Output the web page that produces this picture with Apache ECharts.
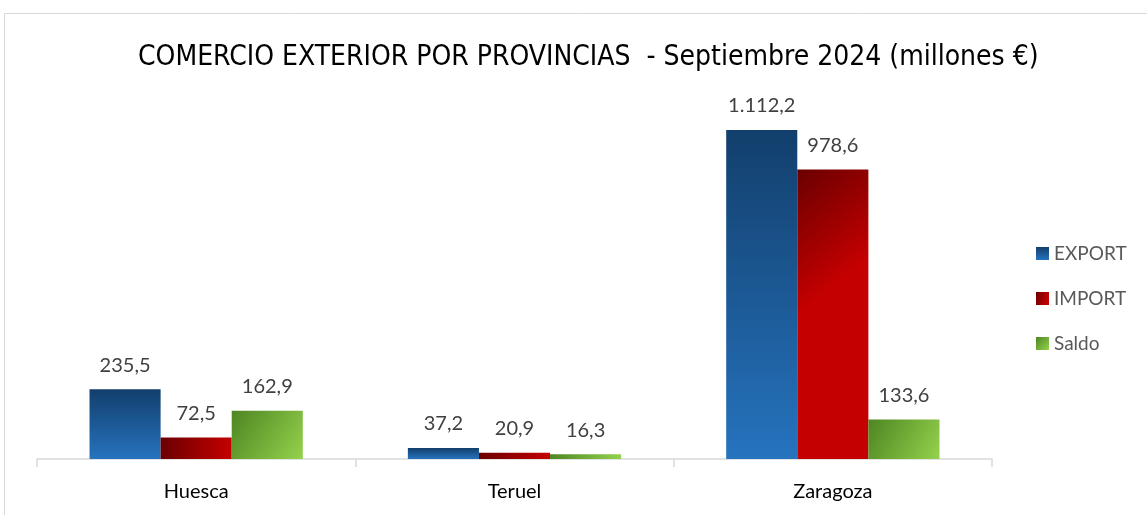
<!DOCTYPE html>
<html>
<head>
<meta charset="utf-8">
<script src="https://cdn.jsdelivr.net/npm/echarts@6/dist/echarts.min.js"></script>
<style>
  html, body { margin: 0; padding: 0; background: #fff; }
  #chart { width: 1147px; height: 515px; }
</style>
</head>
<body>
<div id="chart"></div>
<script>
// datos del gráfico
const provincias = ['Huesca', 'Teruel', 'Zaragoza']
const exportData = [235.5, 37.2, 1112.2]
const importData = [72.5, 20.9, 978.6]
const saldoData = [162.9, 16.3, 133.6]

const fmt = function (v) {
  // formato español: punto de miles, coma decimal
  let parts = v.toFixed(1).split('.')
  let ent = parts[0].replace(/\B(?=(\d{3})+(?!\d))/g, '.')
  return ent + ',' + parts[1]
}

const fontLbl = 'Lato, "Open Sans", sans-serif'

const gradExport = new echarts.graphic.LinearGradient(0, 0, 0, 1, [
  {offset: 0, color: '#123f6c'},
  {offset: 1, color: '#2673be'}
])
const gradImport = new echarts.graphic.LinearGradient(0, 0, 1, 0.3, [
  {offset: 0, color: '#6a0000'},
  {offset: 1, color: '#c40000'}
])
const gradSaldo = new echarts.graphic.LinearGradient(0, 0, 1, 1, [
  {offset: 0, color: '#4e8522'},
  {offset: 1, color: '#94d24c'}
])

const serie = function (name, data, color) {
  return {
    name: name,
    type: 'bar',
    data: data,
    barGap: '0%',
    barCategoryGap: '33%',
    itemStyle: {color: color},
    label: {
      show: true,
      position: 'top',
      distance: 14,
      formatter: function (p) { return fmt(p.value) },
      color: '#404040',
      fontSize: 20,
      fontFamily: fontLbl
    }
  }
}

let myChart = echarts.init(document.getElementById('chart'))
myChart.setOption({
  animation: false,
  title: {
    text: 'COMERCIO EXTERIOR POR PROVINCIAS  - Septiembre 2024 (millones €)',
    left: 133,
    top: 39,
    textStyle: {
      fontFamily: '"DejaVu Sans Condensed", "Liberation Sans Narrow", sans-serif',
      fontWeight: 'normal',
      fontSize: 28,
      color: '#000'
    }
  },
  graphic: [{
    type: 'rect',
    shape: {x: 4.5, y: 13.5, width: 1160, height: 520},
    style: {fill: 'none', stroke: '#d9d9d9', lineWidth: 1},
    silent: true
  }],
  legend: {
    orient: 'vertical',
    left: 1031,
    top: 239,
    itemWidth: 13,
    itemHeight: 13,
    itemGap: 26,
    icon: 'rect',
    textStyle: {color: '#595959', fontSize: 19, fontFamily: fontLbl},
    data: ['EXPORT', 'IMPORT', 'Saldo']
  },
  grid: {left: 37, right: 155, top: 104, bottom: 56},
  xAxis: {
    type: 'category',
    data: provincias,
    axisLine: {lineStyle: {color: '#d9d9d9', width: 1.5}},
    axisTick: {show: true, length: 8, lineStyle: {color: '#d9d9d9', width: 1.5}},
    axisLabel: {color: '#000', fontSize: 20, fontFamily: fontLbl, margin: 23}
  },
  yAxis: {
    type: 'value',
    min: 0,
    max: 1200,
    show: false,
    splitLine: {show: false}
  },
  series: [
    serie('EXPORT', exportData, gradExport),
    serie('IMPORT', importData, gradImport),
    serie('Saldo', saldoData, gradSaldo)
  ]
})
</script>
</body>
</html>
